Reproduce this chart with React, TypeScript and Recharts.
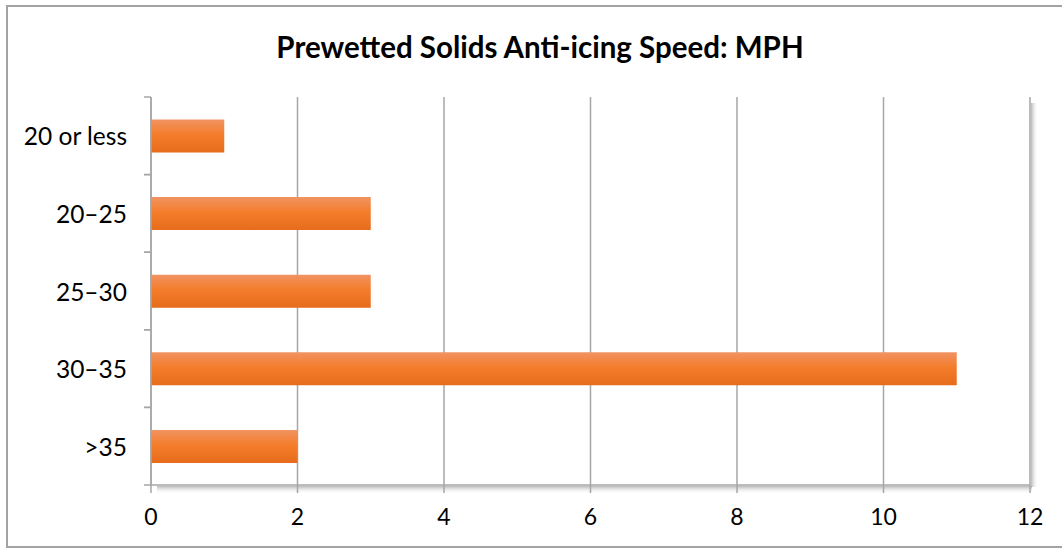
import React from 'react';
import { BarChart, Bar, XAxis, YAxis, CartesianGrid, usePlotArea } from 'recharts';

const categories = ['20 or less', '20–25', '25–30', '30–35', '>35'];
const counts = [1, 3, 3, 11, 2];
const xTicks = [0, 2, 4, 6, 8, 10, 12];

const data = categories.map((c, i) => ({ name: c, value: counts[i] }));

const FONT = 'Lato, "Open Sans", sans-serif';
const GRID = '#a6a6a6';

const YTick = (props: any) => {
  const { x, y, payload } = props;
  const off = payload.offset || 0;
  return (
    <g>
      <line x1={x + 17} x2={x + 24} y1={y - off} y2={y - off} stroke={GRID} strokeWidth={1.5} />
      <line x1={x + 17} x2={x + 24} y1={y + off} y2={y + off} stroke={GRID} strokeWidth={1.5} />
      <text x={x} y={y} textAnchor="end" dominantBaseline="central" fontSize={24.5} fontFamily={FONT} fill="#000">
        {payload.value}
      </text>
    </g>
  );
};

const Shadow = () => {
  const area = usePlotArea();
  if (!area) return null;
  const { x, y, width, height } = area;
  return (
    <g>
      <defs>
        <linearGradient id="shB" x1="0" y1="0" x2="0" y2="1">
          <stop offset="0%" stopColor="#7f7f7f" stopOpacity={0.55} />
          <stop offset="100%" stopColor="#ffffff" stopOpacity={0} />
        </linearGradient>
        <linearGradient id="shR" x1="0" y1="0" x2="1" y2="0">
          <stop offset="0%" stopColor="#7f7f7f" stopOpacity={0.55} />
          <stop offset="100%" stopColor="#ffffff" stopOpacity={0} />
        </linearGradient>
      </defs>
      <rect x={x + 6} y={y + height + 1} width={width - 4} height={8} fill="url(#shB)" />
      <rect x={x + width + 1} y={y + 6} width={7} height={height - 4} fill="url(#shR)" />
    </g>
  );
};

export default function App() {
  return (
    <div style={{ position: 'absolute', left: 0, top: 0, width: 1062, height: 552, background: '#fff', overflow: 'hidden' }}>
      <div
        style={{
          position: 'absolute',
          left: 6,
          top: 5,
          width: 1070,
          height: 543,
          border: '2px solid #a3a3a3',
          boxSizing: 'border-box',
          borderRight: 'none',
        }}
      />
      <div
        style={{
          position: 'absolute',
          left: 0,
          top: 28,
          width: 1080,
          textAlign: 'center',
          fontFamily: FONT,
          fontWeight: 700,
          fontSize: 29.5,
          lineHeight: '38px',
          color: '#000',
        }}
      >
        Prewetted Solids Anti-icing Speed: MPH
      </div>
      <div style={{ position: 'absolute', left: 0, top: 0 }}>
        <BarChart
          width={1062}
          height={552}
          data={data}
          layout="vertical"
          margin={{ top: 97, right: 32, bottom: 37, left: 0 }}
          barCategoryGap="29%"
        >
          <defs>
            <linearGradient id="barGrad" x1="0" y1="0" x2="0" y2="1">
              <stop offset="0%" stopColor="#f19362" />
              <stop offset="45%" stopColor="#f47d2c" />
              <stop offset="100%" stopColor="#e66c1b" />
            </linearGradient>
          </defs>
          <Shadow />
          <CartesianGrid horizontal={false} vertical stroke={GRID} strokeWidth={1.5} />
          <XAxis
            type="number"
            domain={[0, 12]}
            ticks={xTicks}
            tickCount={7}
            interval={0}
            height={30}
            axisLine={{ stroke: GRID, strokeWidth: 1.5 }}
            tickLine={{ stroke: GRID, strokeWidth: 1.5 }}
            tickSize={8}
            tickMargin={16}
            tick={{ fontSize: 23, fontFamily: FONT, fill: '#000' }}
          />
          <YAxis
            type="category"
            dataKey="name"
            width={151}
            axisLine={{ stroke: GRID, strokeWidth: 1.5 }}
            tickLine={false}
            tickSize={0}
            tickMargin={24}
            tick={<YTick />}
          />
          <Bar dataKey="value" fill="url(#barGrad)" isAnimationActive={false} />
        </BarChart>
      </div>
    </div>
  );
}
